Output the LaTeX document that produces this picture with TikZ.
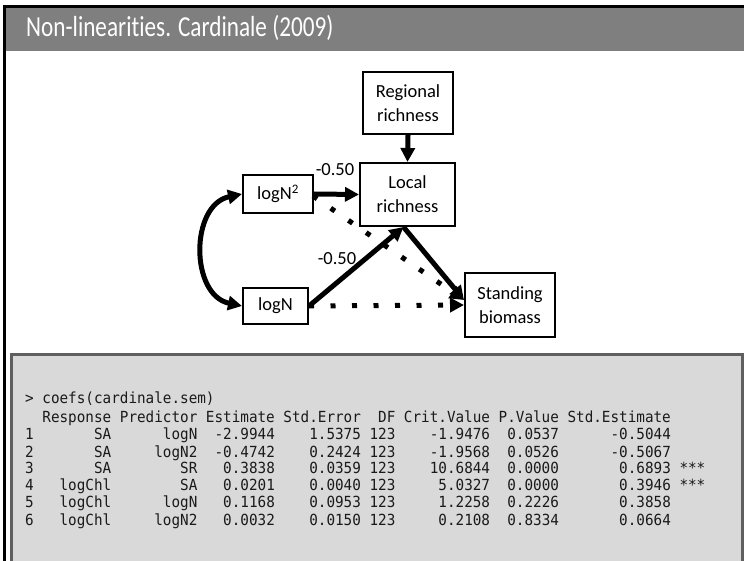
\documentclass[tikz,border=0pt]{standalone}
\usepackage{fontspec}
\setmainfont{Carlito}[Ligatures=NoCommon]
\setmonofont{DejaVu Sans Mono}
\usetikzlibrary{arrows.meta}
\definecolor{titlegray}{HTML}{7F7F7F}
\definecolor{panelfill}{HTML}{D9D9D9}
\definecolor{paneledge}{HTML}{5F5F5F}
\definecolor{consoleink}{HTML}{1A1A1A}
\newcommand{\consoleline}[1]{\scalebox{1}[1.07]{#1}}
\begin{document}
\begin{tikzpicture}[x=1pt,y=-1pt,
  varbox/.style={draw, line width=2pt, fill=white, align=center, inner sep=0pt,
    font=\fontsize{18.5}{24}\selectfont},
  link/.style={line width=5pt, -{Triangle[length=14pt,width=14pt]}},
  weak/.style={line width=5pt, dash pattern=on 5pt off 16.5pt, -{Triangle[length=14pt,width=14pt]}},
  coef/.style={font=\fontsize{18.5}{21}\selectfont, inner sep=0pt},
  rline/.style={anchor=base west, inner sep=0pt, text=consoleink, font=\fontsize{14.3}{16}\ttfamily}]
\useasboundingbox (0,0) rectangle (744,561);
% slide frame and title bar
\fill[titlegray] (6,8) rectangle (744,51);
\fill[black] (3,5) rectangle (744,8);
\fill[black] (3,5) rectangle (6,561);
\node[anchor=west, text=white, inner sep=0pt, font=\fontsize{29}{32}\selectfont] (title) at (26,28)
  {\scalebox{0.8}[1]{Non-linearities. Cardinale (2009)}};
% path diagram
\node[varbox, minimum width=90pt, minimum height=62pt] (reg) at (408,103) {Regional\\richness};
\node[varbox, minimum width=95pt, minimum height=63pt] (loc) at (407.5,194.5) {Local\\richness};
\node[varbox, minimum width=70pt, minimum height=38pt] (lognsq) at (278,194) {logN\textsuperscript{2}};
\node[varbox, minimum width=65pt, minimum height=36pt] (logn) at (275.5,306) {logN};
\node[varbox, minimum width=90pt, minimum height=64pt] (stand) at (510,305) {Standing\\biomass};
\coordinate (dotstart) at (313,196);
\draw[weak] (dotstart) -- ([yshift=5pt]stand.west);
\draw[weak] (logn.east) -- (stand.west);
\draw[link] (reg.south) -- (loc.north);
\draw[link] (lognsq.east) -- (loc.west);
\draw[link] (logn.east) -- ([xshift=-4pt]loc.south);
\draw[link] ([xshift=-4pt]loc.south) -- ([yshift=5pt]stand.west);
\draw[line width=5pt, {Triangle[length=14pt,width=14pt]}-{Triangle[length=14pt,width=14pt]}]
  (lognsq.west) .. controls (190,205) and (190,295) .. (logn.west);
\node[coef] (c1) at (335,170) {-0.50};
\node[coef] (c2) at (337,259) {-0.50};
% R console output
\draw[line width=3pt, draw=paneledge, fill=panelfill] (11.5,354.5) rectangle (742.5,575);
\node[rline] (r0) at (25,403) {\consoleline{>~coefs(cardinale.sem)}};
\node[rline] (r1) at (25,422) {\consoleline{~~Response~Predictor~Estimate~Std.Error~~DF~Crit.Value~P.Value~Std.Estimate}};
\node[rline] (r2) at (25,439) {\consoleline{1~~~~~~~SA~~~~~~logN~~-2.9944~~~~1.5375~123~~~~-1.9476~~0.0537~~~~~~-0.5044}};
\node[rline] (r3) at (25,457) {\consoleline{2~~~~~~~SA~~~~~logN2~~-0.4742~~~~0.2424~123~~~~-1.9568~~0.0526~~~~~~-0.5067}};
\node[rline] (r4) at (25,473) {\consoleline{3~~~~~~~SA~~~~~~~~SR~~~0.3838~~~~0.0359~123~~~~10.6844~~0.0000~~~~~~~0.6893~***}};
\node[rline] (r5) at (25,490) {\consoleline{4~~~logChl~~~~~~~~SA~~~0.0201~~~~0.0040~123~~~~~5.0327~~0.0000~~~~~~~0.3946~***}};
\node[rline] (r6) at (25,507) {\consoleline{5~~~logChl~~~~~~logN~~~0.1168~~~~0.0953~123~~~~~1.2258~~0.2226~~~~~~~0.3858}};
\node[rline] (r7) at (25,525) {\consoleline{6~~~logChl~~~~~logN2~~~0.0032~~~~0.0150~123~~~~~0.2108~~0.8334~~~~~~~0.0664}};
\end{tikzpicture}
\end{document}
